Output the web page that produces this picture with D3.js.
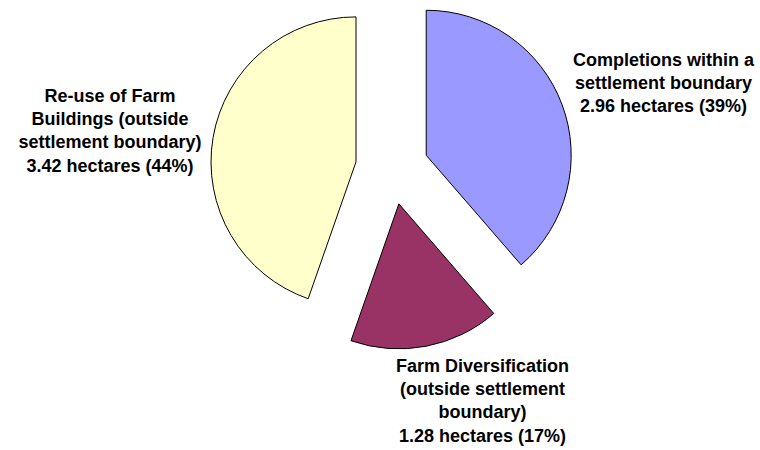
<!DOCTYPE html>
<html>
<head>
<meta charset="utf-8">
<script src="https://cdn.jsdelivr.net/npm/d3@7"></script>
<style>
  html, body { margin: 0; padding: 0; background: #fff; }
  svg { display: block; }
  text { font-family: "Liberation Sans", Arial, sans-serif; font-weight: bold; font-size: 18px; fill: #000; }
</style>
</head>
<body>
<svg id="chart" width="760" height="450"></svg>
<script>
const categories = [
  "Completions within a settlement boundary",
  "Farm Diversification (outside settlement boundary)",
  "Re-use of Farm Buildings (outside settlement boundary)"
];
const values = [2.96, 1.28, 3.42];
const percentLabels = ["39%", "17%", "44%"];
const labelLines = [
  ["Completions within a", "settlement boundary", "2.96 hectares (39%)"],
  ["Farm Diversification", "(outside settlement", "boundary)", "1.28 hectares (17%)"],
  ["Re-use of Farm", "Buildings (outside", "settlement boundary)", "3.42 hectares (44%)"]
];
const colors = ["#9999FF", "#993366", "#FFFFCC"];

const svg = d3.select("#chart");
const cx = 392, cy = 168, radius = 145, explode = 36.5;

const pie = d3.pie().sort(null).value(d => d)(values);
const arc = d3.arc().innerRadius(0).outerRadius(radius);

const g = svg.append("g").attr("transform", `translate(${cx},${cy})`);
g.selectAll("path").data(pie).enter().append("path")
  .attr("d", arc)
  .attr("fill", (d, i) => colors[i])
  .attr("stroke", "#000")
  .attr("stroke-width", 1)
  .attr("stroke-linejoin", "round")
  .attr("transform", d => {
    const a = (d.startAngle + d.endAngle) / 2;
    return `translate(${explode * Math.sin(a)},${-explode * Math.cos(a)})`;
  });

const labelPos = [
  { x: 663.5, y: 65.7 },
  { x: 482.5, y: 371.7 },
  { x: 110, y: 101.7 }
];
const lineH = 23.3;
labelLines.forEach((lines, i) => {
  const t = svg.append("text")
    .attr("text-anchor", "middle")
    .attr("x", labelPos[i].x)
    .attr("y", labelPos[i].y);
  lines.forEach((ln, j) => {
    t.append("tspan").attr("x", labelPos[i].x).attr("dy", j === 0 ? 0 : lineH).text(ln);
  });
});
</script>
</body>
</html>
